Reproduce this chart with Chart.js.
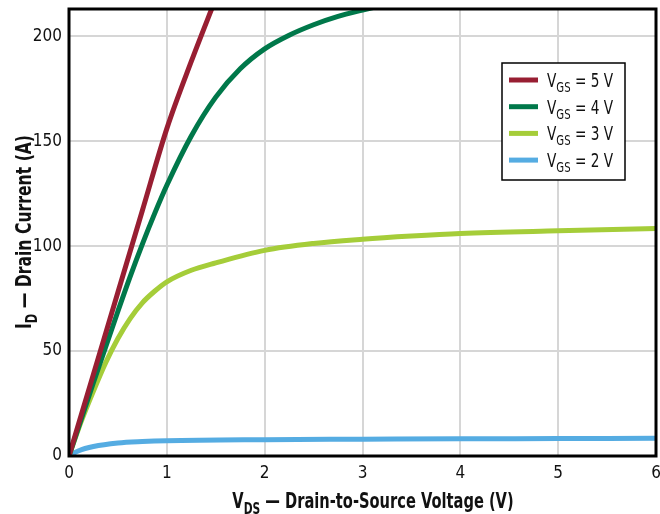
<!DOCTYPE html>
<html>
<head>
<meta charset="utf-8">
<script src="https://cdn.jsdelivr.net/npm/chart.js@4"></script>
<style>
  body { margin: 0; background: #fff; }
  #wrap { width: 660px; height: 514px; }
</style>
</head>
<body>
<div id="wrap"><canvas id="ivChart" width="660" height="514"></canvas></div>
<script>
  const FONT = '"DejaVu Sans Condensed", "Liberation Sans", sans-serif';

  // gate voltages and their curves (VDS in V, ID in A)
  const vgsLabels = ['5', '4', '3', '2'];
  const vds5 = [0, 0.25, 0.5, 0.75, 1, 1.25, 1.5];
  const id5  = [0, 39, 78, 117, 156, 188, 218];
  const vds4 = [0, 0.25, 0.5, 0.625, 0.75, 0.875, 1, 1.25, 1.5, 1.75, 2, 2.25, 2.5, 2.75, 3, 3.5];
  const id4  = [0, 35, 69, 85.5, 101, 115.5, 129, 152.5, 171, 184.5, 194, 200.5, 205.5, 209.5, 212.5, 218];
  const vds3 = [0, 0.125, 0.25, 0.375, 0.5, 0.625, 0.75, 0.875, 1, 1.25, 1.5, 2, 2.5, 3, 3.5, 4, 5, 6];
  const id3  = [0, 16.5, 31, 44.5, 56, 65.5, 73, 78.5, 83, 88.5, 92, 98, 101.3, 103.3, 104.8, 106, 107.3, 108.4];
  const vds2 = [0, 0.1, 0.25, 0.5, 0.75, 1, 2, 3, 4, 5, 6];
  const id2  = [0, 2.5, 4.5, 6.2, 6.9, 7.3, 7.8, 8.0, 8.2, 8.3, 8.4];
  const colors = ['#981E32', '#00784A', '#A5CD39', '#55ACE2'];

  const xTicks = [0, 1, 2, 3, 4, 5, 6];
  const yTicks = [0, 50, 100, 150, 200];

  const toPts = (xs, ys) => xs.map((x, i) => ({ x: x, y: ys[i] }));
  const series = [toPts(vds5, id5), toPts(vds4, id4), toPts(vds3, id3), toPts(vds2, id2)];

  // text with subscript pieces, squeezed sideways (the original font is a condensed one)
  function drawParts(ctx, parts, size, weight, x, y, align, squeeze) {
    const big = weight + ' ' + size + 'px ' + FONT;
    const small = weight + ' ' + Math.round(size * 0.72) + 'px ' + FONT;
    let w = 0;
    parts.forEach(p => { ctx.font = p[1] ? small : big; w += ctx.measureText(p[0]).width; });
    ctx.save();
    ctx.translate(x, y);
    ctx.scale(squeeze, 1);
    let cx = align === 'center' ? -w / 2 : 0;
    ctx.textAlign = 'left';
    ctx.textBaseline = 'alphabetic';
    parts.forEach(p => {
      ctx.font = p[1] ? small : big;
      ctx.fillText(p[0], cx, p[1] ? size * 0.26 : 0);
      cx += ctx.measureText(p[0]).width;
    });
    ctx.restore();
  }

  const extras = {
    id: 'extras',
    afterDraw(chart) {
      const ctx = chart.ctx;
      const a = chart.chartArea;
      ctx.save();
      // frame around the plot
      ctx.strokeStyle = '#000';
      ctx.lineWidth = 3;
      ctx.strokeRect(a.left, a.top, a.right - a.left, a.bottom - a.top);

      // axis titles
      ctx.fillStyle = '#111';
      drawParts(ctx, [['V', false], ['DS', true], [' — Drain-to-Source Voltage (V)', false]],
        22, 'bold', 373, 508, 'center', 0.74);
      ctx.save();
      ctx.translate(31, 232);
      ctx.rotate(-Math.PI / 2);
      drawParts(ctx, [['I', false], ['D', true], [' — Drain Current (A)', false]],
        22, 'bold', 0, 0, 'center', 0.79);
      ctx.restore();

      // legend box
      const lx = 502, ly = 63, lw = 123, lh = 117;
      ctx.fillStyle = '#fff';
      ctx.fillRect(lx, ly, lw, lh);
      ctx.strokeStyle = '#000';
      ctx.lineWidth = 1.5;
      ctx.strokeRect(lx, ly, lw, lh);
      chart.data.datasets.forEach((ds, i) => {
        const ry = 80 + i * 26.7;
        ctx.strokeStyle = ds.borderColor;
        ctx.lineWidth = 5;
        ctx.beginPath();
        ctx.moveTo(509, ry);
        ctx.lineTo(538, ry);
        ctx.stroke();
        ctx.fillStyle = '#111';
        drawParts(ctx, [['V', false], ['GS', true], [' = ' + vgsLabels[i] + ' V', false]],
          19, 'normal', 547, ry + 7, 'left', 0.8);
      });
      ctx.restore();
    }
  };

  new Chart(document.getElementById('ivChart'), {
    type: 'line',
    data: {
      datasets: series.map((pts, i) => ({
        label: 'VGS = ' + vgsLabels[i] + ' V',
        data: pts,
        borderColor: colors[i],
        borderWidth: 5,
        pointRadius: 0,
        fill: false,
        cubicInterpolationMode: 'monotone'
      }))
    },
    options: {
      responsive: false,
      animation: false,
      layout: { padding: { left: 0, right: 4, top: 9, bottom: 0 } },
      plugins: { legend: { display: false }, tooltip: { enabled: false } },
      scales: {
        x: {
          type: 'linear',
          min: 0, max: 6,
          afterFit: s => { s.height = 58; s.paddingLeft = 0; s.paddingRight = 0; },
          afterBuildTicks: s => { s.ticks = xTicks.map(v => ({ value: v })); },
          grid: { color: '#d6d6d6', lineWidth: 2, drawTicks: false },
          border: { display: false },
          ticks: { color: '#111', padding: 7, font: { family: FONT, size: 17 } }
        },
        y: {
          min: 0, max: 213,
          afterFit: s => { s.width = 69; s.paddingTop = 0; s.paddingBottom = 0; },
          afterBuildTicks: s => { s.ticks = yTicks.map(v => ({ value: v })); },
          grid: { color: '#d6d6d6', lineWidth: 2, drawTicks: false },
          border: { display: false },
          ticks: { color: '#111', padding: 7, font: { family: FONT, size: 17 } }
        }
      }
    },
    plugins: [extras]
  });
</script>
</body>
</html>
